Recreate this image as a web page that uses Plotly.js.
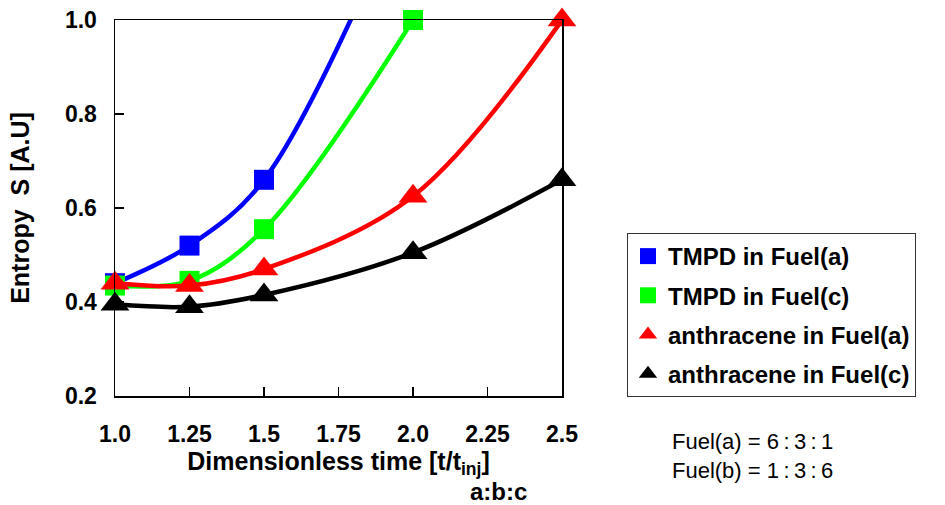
<!DOCTYPE html>
<html><head><meta charset="utf-8">
<script src="https://cdn.plot.ly/plotly-3.0.1.min.js"></script>
<style>html,body{margin:0;padding:0;background:#fff}</style>
</head><body><div id="chart" style="width:945px;height:505px"></div>
<script>
const timeX = [1.0, 1.25, 1.5, 2.0, 2.5];
const tmpdFuelA = [0.44, 0.52, 0.66, 1.30, null];
const tmpdFuelC = [0.435, 0.445, 0.555, 1.0, null];
const anthFuelA = [0.44, 0.435, 0.47, 0.625, 1.0];
const anthFuelC = [0.395, 0.39, 0.415, 0.505, 0.66];
const seriesNames = ['TMPD in Fuel(a)', 'TMPD in Fuel(c)', 'anthracene in Fuel(a)', 'anthracene in Fuel(c)'];
const xTickVals = [1.0, 1.25, 1.5, 1.75, 2.0, 2.25, 2.5];
const xTickText = ['1.0', '1.25', '1.5', '1.75', '2.0', '2.25', '2.5'];
const yTickVals = [0.2, 0.4, 0.6, 0.8, 1.0];
const yTickText = ['0.2', '0.4', '0.6', '0.8', '1.0'];
const noteLines = ['Fuel(a) = 6\u2009:\u20093\u2009:\u20091', 'Fuel(b) = 1\u2009:\u20093\u2009:\u20096'];
const ratioLabel = 'a:b:c';

const FONT = '"Liberation Sans", Arial, Helvetica, sans-serif';
const seriesY = [tmpdFuelA, tmpdFuelC, anthFuelA, anthFuelC];
const colors = ['#0000ff', '#00ff00', '#ff0000', '#000000'];
const symbols = ['square', 'square', 'triangle-up', 'triangle-up'];
const sizes = [20, 20, 25, 25];

const traces = [];
seriesY.forEach((ys, i) => {
  traces.push({
    x: timeX, y: ys, type: 'scatter', mode: 'lines+markers',
    line: {color: colors[i], width: 4.5, shape: 'spline', smoothing: 1},
    marker: {color: colors[i], symbol: symbols[i], size: sizes[i]},
    cliponaxis: false, showlegend: false, connectgaps: false, hoverinfo: 'skip'
  });
});
seriesY.forEach((ys, i) => {
  traces.push({
    x: [null], y: [null], type: 'scatter', mode: 'markers', name: seriesNames[i],
    legendgroup: 'g' + i,
    marker: {color: colors[i], symbol: symbols[i], size: 16},
    showlegend: true
  });
});

const layout = {
  width: 945, height: 505,
  margin: {l: 115, r: 383, t: 20, b: 109},
  paper_bgcolor: '#fff', plot_bgcolor: '#fff',
  font: {family: FONT, color: '#000'},
  showlegend: true,
  xaxis: {
    range: [1.0, 2.5], tickvals: xTickVals, ticktext: xTickText,
    ticks: 'inside', ticklen: 9, tickwidth: 1.5, tickcolor: '#000',
    showline: true, linecolor: '#000', linewidth: 1.5, mirror: true,
    showgrid: false, zeroline: false, ticklabelstandoff: 17,
    tickfont: {family: FONT, size: 23, weight: 700, color: '#000'},
    title: {text: 'Dimensionless time [t/t<sub>inj</sub>]', font: {family: FONT, size: 25, weight: 700, color: '#000'}, standoff: 2}
  },
  yaxis: {
    range: [0.2, 1.0], tickvals: yTickVals, ticktext: yTickText,
    ticks: 'inside', ticklen: 9, tickwidth: 1.5, tickcolor: '#000',
    showline: true, linecolor: '#000', linewidth: 1.5, mirror: true,
    showgrid: false, zeroline: false, ticklabelstandoff: 12,
    tickfont: {family: FONT, size: 23, weight: 700, color: '#000'},
    title: {text: 'Entropy&nbsp;&nbsp;S [A.U]', font: {family: FONT, size: 25, weight: 700, color: '#000'}, standoff: 28}
  },
  legend: {
    x: 1.1454, y: 0.4335, xanchor: 'left', yanchor: 'top',
    bordercolor: '#333', borderwidth: 1, bgcolor: '#fff',
    traceorder: 'grouped', tracegroupgap: 5,
    font: {family: FONT, size: 24, weight: 700, color: '#000'}
  },
  annotations: [
    {text: noteLines[0], xref: 'paper', yref: 'paper', x: 1.2416, y: -0.1197, xanchor: 'left', yanchor: 'middle', showarrow: false, font: {family: FONT, size: 22, color: '#000'}},
    {text: noteLines[1], xref: 'paper', yref: 'paper', x: 1.2416, y: -0.197, xanchor: 'left', yanchor: 'middle', showarrow: false, font: {family: FONT, size: 22, color: '#000'}},
    {text: ratioLabel, xref: 'paper', yref: 'paper', x: 0.859, y: -0.255, xanchor: 'center', yanchor: 'middle', showarrow: false, font: {family: FONT, size: 24, weight: 700, color: '#000'}}
  ]
};

Plotly.newPlot('chart', traces, layout, {staticPlot: true, displayModeBar: false});
</script>
</body></html>
